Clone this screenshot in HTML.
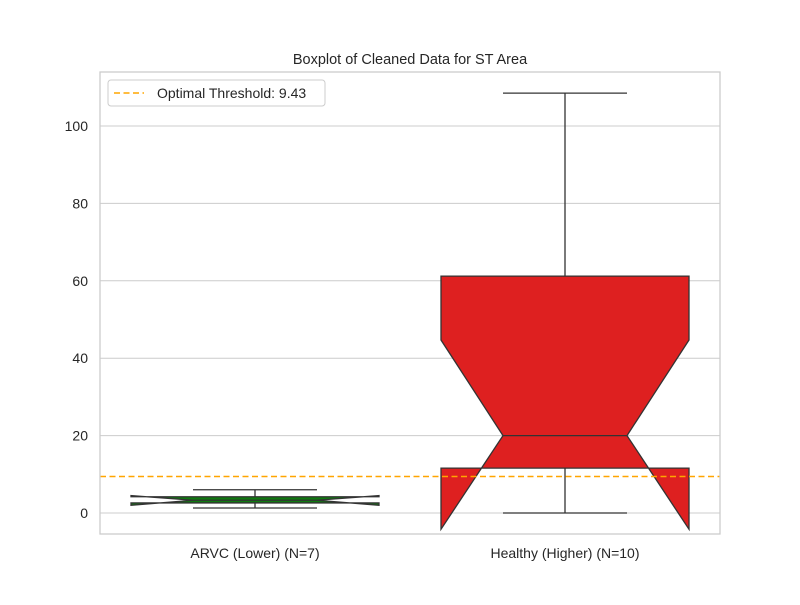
<!DOCTYPE html>
<html><head><meta charset="utf-8"><style>body{margin:0;background:#fff}svg{font-family:"Liberation Sans","DejaVu Sans",sans-serif}</style></head>
<body>
<svg id="c" width="800" height="600"></svg>
<script>
const categories=["ARVC (Lower) (N=7)","Healthy (Higher) (N=10)"];
const colors=["#0f7a0f","#de2020"];
const whiskerLo=[1.3,0];
const q1=[2.6,11.6];
const median=[3.3,20.0];
const q3=[4.2,61.2];
const whiskerHi=[6.0,108.5];
const notchLo=[2.0,-4.2];
const notchHi=[4.5,44.7];
const yTicks=[0,20,40,60,80,100];
const threshold=[9.43];
const NS="http://www.w3.org/2000/svg";
const svg=document.getElementById('c');
const L=100,R=720,T=72,B=534;
const y=v=>513-v*3.87;
const xc=i=>255+i*310;
const BW=248;
function mk(t,a,p){const e=document.createElementNS(NS,t);for(const k in a)e.setAttribute(k,a[k]);(p||svg).appendChild(e);return e;}
for(const t of yTicks){
 const g=mk('line',{x1:L,x2:R,y1:y(t),y2:y(t),stroke:'#cccccc','stroke-width':1});
 
 
 const tx=mk('text',{x:L-12,y:y(t)+5,'text-anchor':'end','font-size':14,fill:'#262626'});tx.textContent=t;
 
 
}
categories.forEach((c,i)=>{
 const cx=xc(i),l=cx-BW/2,r=cx+BW/2,il=cx-BW/4,ir=cx+BW/4;
 const w1=mk('line',{x1:cx,x2:cx,y1:y(whiskerLo[i]),y2:y(q1[i]),stroke:'#333','stroke-width':1.3});
 
 
 const w2=mk('line',{x1:cx,x2:cx,y1:y(whiskerHi[i]),y2:y(q3[i]),stroke:'#333','stroke-width':1.3});
 
 
 [whiskerLo[i],whiskerHi[i]].forEach(v=>{
  const cap=mk('line',{x1:il,x2:ir,y1:y(v),y2:y(v),stroke:'#333','stroke-width':1.3});
  
  
 });
 const pts=[[l,q1[i]],[l,notchLo[i]],[il,median[i]],[l,notchHi[i]],[l,q3[i]],[r,q3[i]],[r,notchHi[i]],[ir,median[i]],[r,notchLo[i]],[r,q1[i]]];
 const p=mk('polygon',{points:pts.map(q=>q[0]+','+y(q[1])).join(' '),fill:colors[i],stroke:'#333','stroke-width':1.3,'stroke-linejoin':'miter'});
 
 
 const m=mk('line',{x1:il,x2:ir,y1:y(median[i]),y2:y(median[i]),stroke:'#333','stroke-width':1.3});
 
 
 const lb=mk('text',{x:cx,y:558,'text-anchor':'middle','font-size':14,fill:'#262626'});lb.textContent=c;
 
 
});
const th=mk('line',{x1:L,x2:R,y1:y(threshold[0]),y2:y(threshold[0]),stroke:'#ffa500','stroke-width':1.6,'stroke-dasharray':'6,3.5'});


const fr=mk('rect',{x:L,y:T,width:R-L,height:B-T,fill:'none',stroke:'#cccccc','stroke-width':1.3});


const ti=mk('text',{x:410,y:64,'text-anchor':'middle','font-size':14.5,fill:'#262626'});ti.textContent='Boxplot of Cleaned Data for ST Area';


const lg=mk('g',{});


mk('rect',{x:108,y:80,width:217,height:26,rx:3,fill:'#fff','fill-opacity':0.8,stroke:'#cccccc'},lg);
mk('line',{x1:114,x2:144,y1:93,y2:93,stroke:'#ffa500','stroke-width':1.6,'stroke-dasharray':'6,3.5'},lg);
const lt=mk('text',{x:157,y:98,'font-size':14,fill:'#262626'},lg);lt.textContent='Optimal Threshold: 9.43';


</script>
</body></html>
